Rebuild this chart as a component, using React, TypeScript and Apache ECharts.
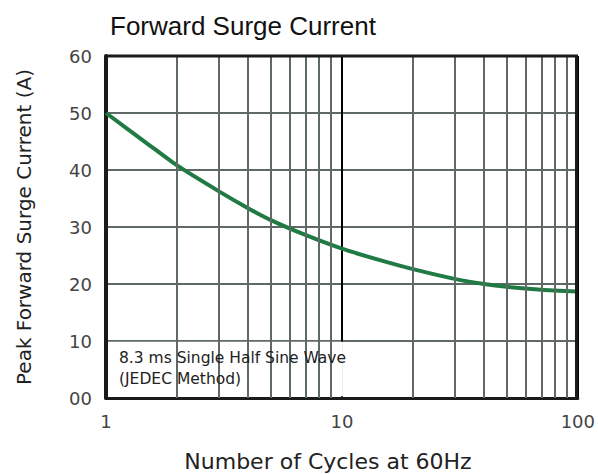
import React, { useEffect, useRef } from "react";
import * as echarts from "echarts";

const cycles = [1, 1.5, 2, 3, 4, 5, 7, 10, 15, 20, 30, 40, 50, 70, 100];
const current = [50, 44.6, 40.8, 36.3, 33.3, 31.2, 28.6, 26.2, 24.0, 22.6, 20.9, 20.0, 19.5, 19.0, 18.7];
const minorGrid = [2, 3, 4, 5, 6, 7, 8, 9, 20, 30, 40, 50, 60, 70, 80, 90];
const titleText = "Forward Surge Current";
const yName = "Peak Forward Surge Current (A)";
const xName = "Number of Cycles at 60Hz";
const noteLines = ["8.3 ms Single Half Sine Wave", "(JEDEC Method)"];

const FONT = "Liberation Sans, Arial, sans-serif";
const WIDE = "DejaVu Sans, Verdana, sans-serif";

export default function App() {
  const ref = useRef<HTMLDivElement>(null);
  useEffect(() => {
    if (!ref.current) return;
    const chart = echarts.init(ref.current, null, { renderer: "svg" });
    chart.setOption({
      animation: false,
      backgroundColor: "#fff",
      title: {
        text: titleText,
        left: 105,
        top: 8,
        textStyle: { fontFamily: FONT, fontSize: 26, fontWeight: "normal", color: "#111" },
      },
      grid: { left: 106, right: 20, top: 56, bottom: 76, show: false },
      xAxis: {
        type: "log",
        logBase: 10,
        min: 1,
        max: 100,
        axisLine: { show: true, onZero: false, lineStyle: { color: "#1a1a1a", width: 3 } },
        axisTick: { show: false },
        axisLabel: { margin: 14, fontFamily: WIDE, fontSize: 18, color: "#444" },
        splitLine: { show: true, lineStyle: { color: "#000", width: 2 } },
        minorTick: { show: false },
        minorSplitLine: { show: false },
      },
      yAxis: {
        type: "value",
        min: 0,
        max: 60,
        interval: 10,
        name: yName,
        nameLocation: "middle",
        nameGap: 72,
        nameTextStyle: { fontFamily: WIDE, fontSize: 20, color: "#222" },
        axisLine: { show: true, lineStyle: { color: "#1a1a1a", width: 4 } },
        axisTick: { show: false },
        axisLabel: {
          margin: 14,
          fontFamily: WIDE,
          fontSize: 18,
          color: "#444",
          formatter: (v: number) => (v === 0 ? "00" : String(v)),
        },
        splitLine: { show: true, lineStyle: { color: "#5f6a67", width: 2 } },
      },
      graphic: [
        {
          type: "rect",
          shape: { x: 575, y: 56, width: 3, height: 342 },
          style: { fill: "#1a1a1a" },
          z: 100,
        },
        {
          type: "rect",
          shape: { x: 106, y: 54.5, width: 472, height: 3 },
          style: { fill: "#1a1a1a" },
          z: 100,
        },
        {
          type: "text",
          left: 119,
          top: 350,
          style: { text: noteLines[0], fontFamily: WIDE, fontSize: 15.5, fill: "#222" },
          z: 100,
        },
        {
          type: "text",
          left: 119,
          top: 371,
          style: { text: noteLines[1], fontFamily: WIDE, fontSize: 15.5, fill: "#222" },
          z: 100,
        },
        {
          type: "text",
          x: 328,
          y: 461,
          style: {
            text: xName,
            fontFamily: WIDE,
            fontSize: 22,
            fill: "#222",
            align: "center",
            verticalAlign: "middle",
          },
          z: 100,
        },
      ],
      series: [
        {
          type: "line",
          data: [],
          z: 1,
          silent: true,
          markLine: {
            silent: true,
            symbol: ["none", "none"],
            label: { show: false },
            lineStyle: { color: "#5f6a67", width: 2, type: "solid" },
            data: minorGrid.map((v) => ({ xAxis: v })),
          },
        },
        {
          type: "line",
          data: [],
          z: 2,
          silent: true,
          markArea: {
            silent: true,
            itemStyle: { color: "#fff", opacity: 1 },
            label: { show: false },
            data: [[{ coord: [1.02, 0.3] }, { coord: [10.1, 9.85] }]],
          },
        },
        {
          type: "line",
          z: 3,
          data: cycles.map((c, i) => [c, current[i]]),
          smooth: 0.2,
          showSymbol: false,
          lineStyle: { color: "#1f7a44", width: 4 },
        },
      ],
    });
    return () => chart.dispose();
  }, []);
  return <div ref={ref} style={{ width: 598, height: 474, position: "absolute", left: 0, top: 0 }} />;
}
